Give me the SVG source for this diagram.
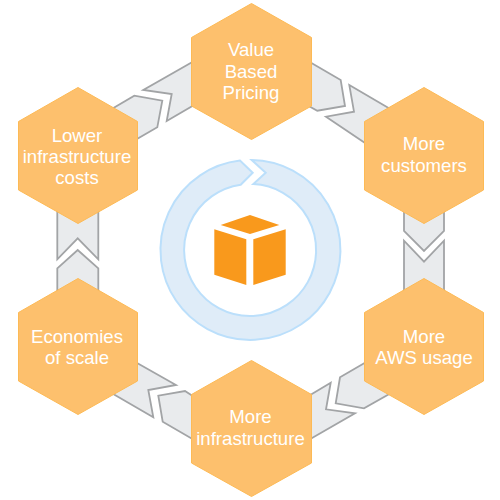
<svg xmlns="http://www.w3.org/2000/svg" width="500" height="500" viewBox="0 0 500 500">
<style>
.hex{fill:#fdc06d;stroke:#fdba55;stroke-width:1}
.conn{fill:#e9ebed;stroke:#a2a4a6;stroke-width:1.8;stroke-linejoin:miter}
.face{fill:#f9991c}
text{font-family:"Liberation Sans",Arial,sans-serif;font-size:18.6px;fill:#fff;text-anchor:middle}
</style>
<g id="connectors">
<polygon class="conn" points="195,60.5 143.3,90 171.7,94 166.7,121 195,104.5"/>
<polygon class="conn" points="110,110 134.3,95.7 162.3,100.7 157.3,127.3 130,143"/>
<polygon class="conn" points="308,61 340.7,80 345,106 317.3,110.7 306,104.5"/>
<polygon class="conn" points="349.3,85 392,110 368,145 326,116.7 354,111.7"/>
<polygon class="conn" points="404,205 404,231 424,251 444,231 444,205"/>
<polygon class="conn" points="404,295 404,240.7 424,261.7 444,240.7 444,295"/>
<polygon class="conn" points="368,361 340,377.3 335.7,403.3 364,408.3 392,392.5"/>
<polygon class="conn" points="306,397.5 330.7,382.7 326,409.3 355,413.3 306,441.5"/>
<polygon class="conn" points="130,359 176,385 148.3,390 153.3,417.3 108,391"/>
<polygon class="conn" points="195,397.5 185,391 158.3,395.7 162.7,421.7 195,440.5"/>
<polygon class="conn" points="57.3,205 57.3,259.3 77.7,238.3 98.3,259.3 98.3,205"/>
<polygon class="conn" points="57.3,295 57.3,268.3 77.7,250 98.3,268.3 98.3,295"/>
</g>
<g id="ring">
<path d="M251.7,160 A90,90 0 1 1 240,160.6 L252.7,172.7 L240.7,184.7 A66,66 0 1 0 253.3,184.1 L265.7,172.7 Z" fill="#dfecf8" stroke="#bbdffb" stroke-width="2"/>
</g>
<g id="cube">
<polygon class="face" points="250,215 279.3,225 250,234 220.7,225"/>
<polygon class="face" points="214.3,229.3 246.3,239.3 246.3,285 214.3,274.7"/>
<polygon class="face" points="253.3,239.3 285.7,229.3 285.7,274.7 253.3,285"/>
</g>
<g id="node-value">
<polygon class="hex" points="251.5,3.5 311.5,37.5 311.5,106 251.5,139.5 191.5,106 191.5,37.5"/>
<text x="251" y="56">Value</text><text x="251" y="78">Based</text><text x="251" y="99">Pricing</text>
</g>
<g id="node-customers">
<polygon class="hex" points="424,87.5 483.5,121.5 483.5,190 424,223.5 364.5,190 364.5,121.5"/>
<text x="424" y="150">More</text><text x="424" y="172">customers</text>
</g>
<g id="node-usage">
<polygon class="hex" points="424,278.5 483.5,312.5 483.5,381 424,414.5 364.5,381 364.5,312.5"/>
<text x="424" y="343">More</text><text x="424" y="364">AWS usage</text>
</g>
<g id="node-infrastructure">
<polygon class="hex" points="251.5,360.5 311.5,394.5 311.5,463 251.5,496.5 191.5,463 191.5,394.5"/>
<text x="250.5" y="423">More</text><text x="250.5" y="445">infrastructure</text>
</g>
<g id="node-scale">
<polygon class="hex" points="78,278.5 137.5,312.5 137.5,381 78,414.5 18.5,381 18.5,312.5"/>
<text x="77" y="343">Economies</text><text x="77" y="364">of scale</text>
</g>
<g id="node-lower">
<polygon class="hex" points="78,87.5 137.5,121.5 137.5,190 78,223.5 18.5,190 18.5,121.5"/>
<text x="77" y="142">Lower</text><text x="77" y="163">infrastructure</text><text x="77" y="184">costs</text>
</g>
</svg>
